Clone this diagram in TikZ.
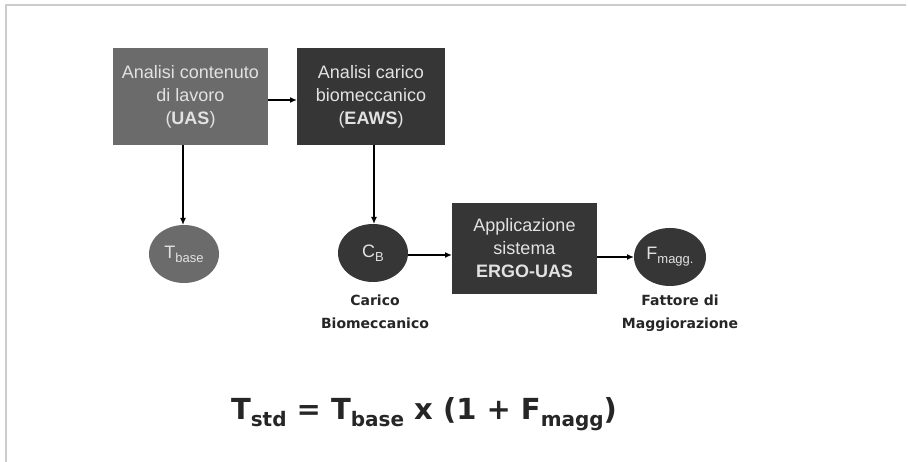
\documentclass[tikz,border=0pt]{standalone}
\usepackage{fontspec}
\setmainfont{Liberation Sans}
\newfontfamily\boldlab{DejaVu Sans}
\usetikzlibrary{arrows.meta}
\definecolor{midgray}{HTML}{6B6B6B}
\definecolor{darkgray}{HTML}{363636}
\definecolor{boxtext}{HTML}{E2E2E2}
\definecolor{framegray}{HTML}{CCCCCC}
\newcommand{\lowtxt}[2]{\raisebox{-0.4ex}{\fontsize{#1}{#1}\selectfont #2}}
\begin{document}
\begin{tikzpicture}[x=1pt,y=-1pt,
  boxA/.style={draw=none,fill=midgray,text=boxtext,align=center,font=\fontsize{18}{23}\selectfont},
  boxB/.style={draw=none,fill=darkgray,text=boxtext,align=center,font=\fontsize{18}{23}\selectfont},
  ellA/.style={draw=none,fill=midgray,text=boxtext,font=\fontsize{18}{20}\selectfont},
  ellB/.style={draw=none,fill=darkgray,text=boxtext,font=\fontsize{18}{20}\selectfont},
  conn/.style={line width=1.6pt,-{Latex[length=7pt,width=6pt]}},
  lab/.style={align=center,font=\boldlab\bfseries\fontsize{14}{23}\selectfont,text=black!85}]
\useasboundingbox (0,0) rectangle (908,462);
\fill[white] (0,0) rectangle (908,462);
\draw[framegray,line width=1.5pt] (6,462) -- (6,5) -- (906,5);
% boxes
\fill[midgray] (113,48) rectangle (268,145);
\node[boxA] (uas) at (190.5,96.5) {Analisi contenuto\\di lavoro\\(\textbf{UAS})};
\path (113,48) coordinate (uasNW) (268,145) coordinate (uasSE);
\fill[darkgray] (297,48) rectangle (445,145);
\node[boxB] (eaws) at (371,96.5) {Analisi carico\\biomeccanico\\(\textbf{EAWS})};
\fill[darkgray] (452,203) rectangle (597,294);
\node[boxB] (ergo) at (524.5,248.5) {Applicazione\\sistema\\\textbf{ERGO-UAS}};
% ellipses
\fill[midgray] (184,254) ellipse [x radius=35,y radius=29];
\node[ellA] (tbase) at (184,254) {T\lowtxt{13}{base}};
\fill[darkgray] (373,253) ellipse [x radius=35,y radius=29];
\node[ellB] (cb) at (373,253) {C\lowtxt{13}{B}};
\fill[darkgray] (670,257) ellipse [x radius=36,y radius=29];
\node[ellB] (fm) at (670,257) {F\lowtxt{13}{magg.}};
% anchor coordinates
\coordinate (uasR) at (268,100);
\coordinate (eawsL) at (297,100);
\coordinate (uasB) at (183,145);
\coordinate (tbaseT) at (183,225);
\coordinate (eawsB) at (374,145);
\coordinate (cbT) at (374,224);
\coordinate (cbR) at (408,255);
\coordinate (ergoL) at (452,255);
\coordinate (ergoR) at (597,257);
\coordinate (fmL) at (634,257);
% connectors
\draw[conn] (uasR) -- (eawsL);
\draw[conn] (uasB) -- (tbaseT);
\draw[conn] (eawsB) -- (cbT);
\draw[conn] (cbR) -- (ergoL);
\draw[conn] (ergoR) -- (fmL);
% labels
\node[lab] (cblab) at (375,312) {Carico\\Biomeccanico};
\node[lab] (fmlab) at (680,313) {Fattore di\\Maggiorazione};
% formula
\node[font=\boldlab\bfseries\fontsize{29}{32}\selectfont,text=black!85] (formula) at (424,414)
 {T\lowtxt{20}{std} = T\lowtxt{20}{base} x (1 + F\lowtxt{20}{magg})};
\end{tikzpicture}
\end{document}
